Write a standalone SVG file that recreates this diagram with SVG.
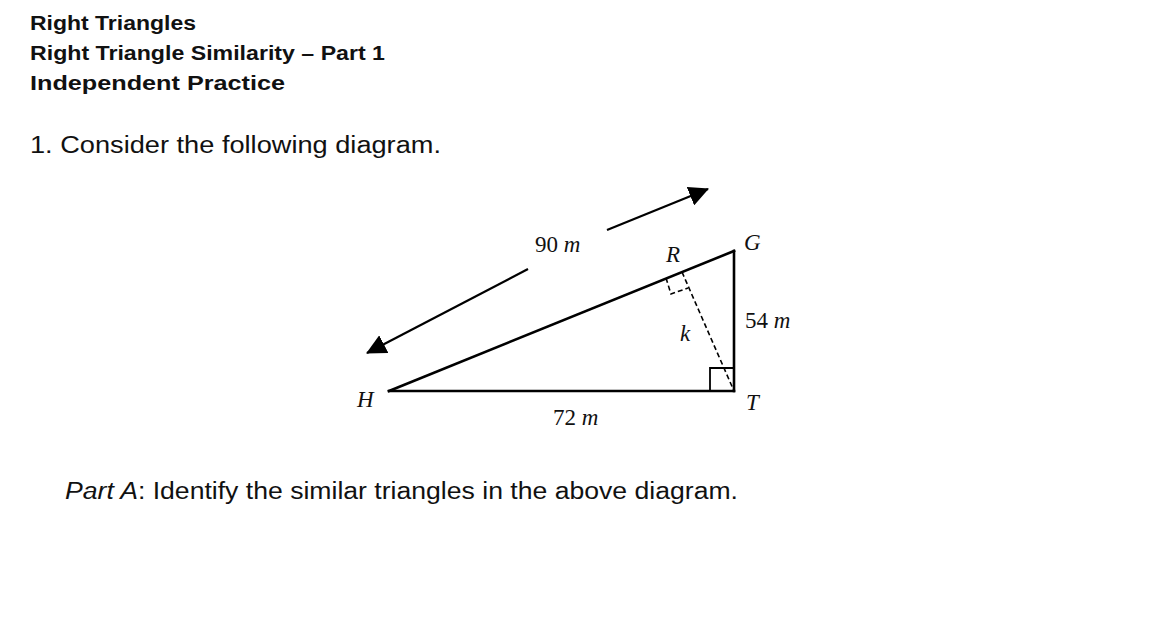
<svg xmlns="http://www.w3.org/2000/svg" width="1152" height="643" viewBox="0 0 1152 643">
<style>
.hd{font-family:"Liberation Sans",Arial,sans-serif;font-weight:bold;font-size:20px;fill:#111}
.bd{font-family:"Liberation Sans",Arial,sans-serif;font-size:23px;fill:#111}
.mi{font-family:"Liberation Serif","Times New Roman",serif;font-style:italic;font-size:23px;fill:#111}
.mn{font-family:"Liberation Serif","Times New Roman",serif;font-size:23px;fill:#111}
.edge{stroke:#000;stroke-width:2.6;fill:none;stroke-linecap:square}
.thin{stroke:#000;stroke-width:1.8;fill:none}
.dash{stroke:#000;stroke-width:1.6;fill:none;stroke-dasharray:5 3}
.arr{stroke:#000;stroke-width:2.2;fill:none}
</style>
<defs>
<marker id="ah" markerUnits="userSpaceOnUse" markerWidth="20" markerHeight="20" refX="19" refY="10" orient="auto" viewBox="0 0 20 20">
<path d="M0,0 L20,10 L0,20 z" fill="#000"/>
</marker>
</defs>
<rect width="1152" height="643" fill="#fff"/>
<g id="header">
<text class="hd" x="30" y="30" textLength="166" lengthAdjust="spacingAndGlyphs">Right Triangles</text>
<text class="hd" x="30" y="60" textLength="355" lengthAdjust="spacingAndGlyphs">Right Triangle Similarity – Part 1</text>
<text class="hd" x="30" y="90" textLength="255" lengthAdjust="spacingAndGlyphs">Independent Practice</text>
<text class="bd" x="30" y="153" textLength="411" lengthAdjust="spacingAndGlyphs">1.  Consider the following diagram.</text>
</g>
<g id="connectors">
<line class="edge" x1="389" y1="391" x2="734" y2="391"/>
<line class="edge" x1="734" y1="391" x2="734" y2="251"/>
<line class="edge" x1="389" y1="391" x2="734" y2="251"/>
<line class="dash" x1="682" y1="272" x2="734" y2="391"/>
<polyline class="thin" points="710,391 710,368 734,368"/>
<polyline class="dash" points="666,278 671,294 688,288"/>
<line class="arr" x1="528" y1="269" x2="367" y2="353" marker-end="url(#ah)"/>
<line class="arr" x1="607" y1="230" x2="708" y2="189" marker-end="url(#ah)"/>
</g>
<g id="node-H"><text class="mi" x="357" y="407">H</text></g>
<g id="node-T"><text class="mi" x="746" y="410">T</text></g>
<g id="node-G"><text class="mi" x="744" y="250">G</text></g>
<g id="node-R"><text class="mi" x="666" y="262">R</text></g>
<g id="label-k"><text class="mi" x="680" y="341">k</text></g>
<g id="label-90"><text x="535" y="252"><tspan class="mn">90 </tspan><tspan class="mi">m</tspan></text></g>
<g id="label-54"><text x="745" y="328"><tspan class="mn">54 </tspan><tspan class="mi">m</tspan></text></g>
<g id="label-72"><text x="553" y="425"><tspan class="mn">72 </tspan><tspan class="mi">m</tspan></text></g>
<g id="partA">
<text class="bd" x="65" y="499" textLength="673" lengthAdjust="spacingAndGlyphs"><tspan font-style="italic">Part A</tspan>: Identify the similar triangles in the above diagram.</text>
</g>
</svg>
